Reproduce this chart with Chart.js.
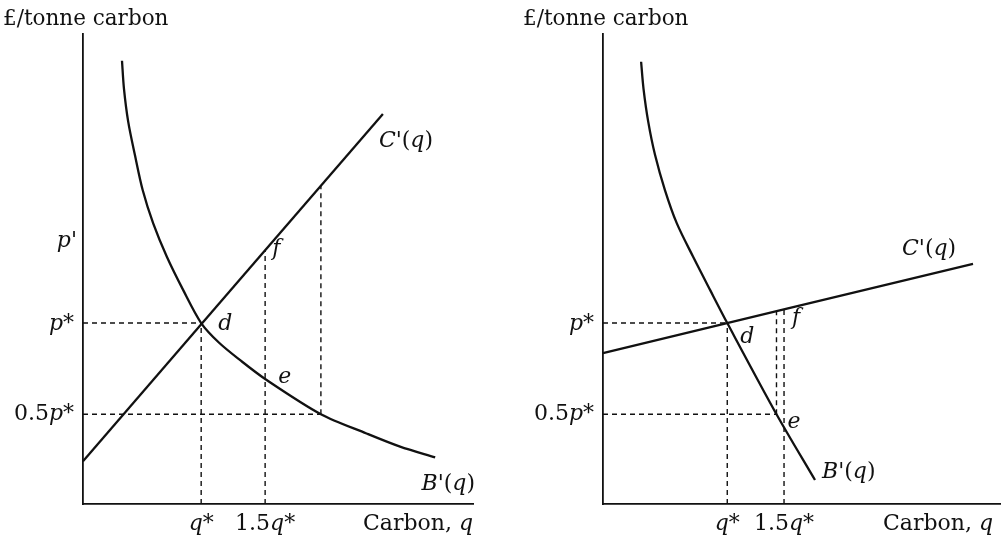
<!DOCTYPE html>
<html>
<head>
<meta charset="utf-8">
<script src="https://cdn.jsdelivr.net/npm/chart.js@4/dist/chart.umd.min.js"></script>
<style>
  body { margin: 0; background: #fff; }
  .panel { position: absolute; top: 0; height: 541px; }
  #left { left: 0; width: 500px; }
  #right { left: 500px; width: 501px; }
</style>
</head>
<body>
<div class="panel" id="left"><canvas id="leftChart" width="500" height="541"></canvas></div>
<div class="panel" id="right"><canvas id="rightChart" width="501" height="541"></canvas></div>
<script>
// left panel: steep C', flat-ish B'
const leftBenefitQ = [1.00, 1.05, 1.16, 1.33, 1.53, 1.80, 2.15, 2.57, 3.03, 3.49, 4.03, 4.67, 6.10, 7.27, 8.13, 9.03];
const leftBenefitP = [9.43, 8.84, 8.13, 7.43, 6.68, 5.97, 5.26, 4.55, 3.85, 3.43, 3.06, 2.66, 1.91, 1.50, 1.22, 0.99];
const leftCostQ = [0, 7.69];
const leftCostP = [0.91, 8.30];
const leftGuideQ = [3.03, 4.67, 6.10];     // q*, 1.5q*, B' at 0.5p*
const leftGuideLow = [0, 0, 1.91];
const leftGuideHigh = [3.85, 5.40, 6.77];
const leftPriceLevels = [3.85, 1.91, 5.40]; // p*, 0.5p*, p'
const leftPriceReach = [3.03, 6.10];
const leftPointE = 2.66;

// right panel: flat C', steep B'
const rightBenefitQ = [0.96, 1.02, 1.14, 1.31, 1.56, 1.86, 2.27, 2.70, 3.13, 4.37, 5.34];
const rightBenefitP = [9.41, 8.84, 8.13, 7.43, 6.68, 5.97, 5.26, 4.55, 3.85, 1.91, 0.51];
const rightCostQ = [0, 9.32];
const rightCostP = [3.21, 5.11];
const rightGuideQ = [3.13, 4.37, 4.56];
const rightGuideLow = [0, 1.91, 0];
const rightGuideHigh = [3.85, 4.10, 4.14];
const rightPriceLevels = [3.85, 1.91];
const rightPriceReach = [3.13, 4.37];

const FONT = '"DejaVu Serif", serif';
const pts = (xs, ys) => xs.map((x, i) => ({ x: x, y: ys[i] }));

function curve(data) {
    return { data: data, showLine: true, pointRadius: 0, borderColor: '#111', borderWidth: 2.3,
             tension: 0.3, clip: 4 };
}
function guide(data) {
    return { data: data, showLine: true, pointRadius: 0, borderColor: '#111', borderWidth: 1.4,
             borderDash: [5, 4], clip: 4 };
}

function guides(q, low, high, levels, reach) {
    const sets = [];
    q.forEach((v, i) => sets.push(guide([{ x: v, y: low[i] }, { x: v, y: high[i] }])));
    reach.forEach((r, i) => sets.push(guide([{ x: 0, y: levels[i] }, { x: r, y: levels[i] }])));
    return sets;
}

// text with mixed upright / italic runs
function drawRuns(ctx, runs, x, y, align, size) {
    const fonts = runs.map(r => (r[1] ? 'italic ' : '') + size + 'px ' + FONT);
    let w = 0;
    runs.forEach((r, i) => { ctx.font = fonts[i]; w += ctx.measureText(r[0]).width; });
    let cx = align === 'right' ? x - w : align === 'center' ? x - w / 2 : x;
    runs.forEach((r, i) => {
        ctx.font = fonts[i];
        ctx.fillText(r[0], cx, y);
        cx += ctx.measureText(r[0]).width;
    });
}

const labelPlugin = {
    id: 'labels',
    afterDraw(chart, args, opts) {
        const ctx = chart.ctx;
        const xs = chart.scales.x, ys = chart.scales.y;
        ctx.save();
        ctx.fillStyle = '#111';
        ctx.textBaseline = 'alphabetic';
        opts.items.forEach(it => {
            const x = xs.getPixelForValue(it.q) + it.dx;
            const y = ys.getPixelForValue(it.p) + it.dy;
            drawRuns(ctx, it.runs, x, y, it.align || 'left', it.size || 22);
        });
        ctx.restore();
    }
};

const PRIME = [['B', true], ["'(", false], ['q', true], [')', false]];
const CPRIME = [['C', true], ["'(", false], ['q', true], [')', false]];

function makeChart(id, datasets, padding, items) {
    new Chart(document.getElementById(id), {
        type: 'scatter',
        data: { datasets: datasets },
        options: {
            responsive: false,
            animation: false,
            layout: { padding: padding },
            plugins: { legend: { display: false }, tooltip: { enabled: false }, labels: { items: items } },
            scales: {
                x: {
                    min: 0, max: 10,
                    ticks: { display: false },
                    grid: { display: true, drawOnChartArea: false, drawTicks: false },
                    border: { display: true, color: '#111', width: 1.8 },
                    afterFit: s => { s.height = 0; }
                },
                y: {
                    min: 0, max: 10,
                    ticks: { display: false },
                    grid: { display: true, drawOnChartArea: false, drawTicks: false },
                    border: { display: true, color: '#111', width: 1.8 },
                    afterFit: s => { s.width = 0; }
                }
            }
        },
        plugins: [labelPlugin]
    });
}

document.addEventListener('DOMContentLoaded', () => {
    // 左图
    makeChart('leftChart',
        [curve(pts(leftBenefitQ, leftBenefitP)), curve(pts(leftCostQ, leftCostP))]
            .concat(guides(leftGuideQ, leftGuideLow, leftGuideHigh, leftPriceLevels, leftPriceReach)),
        { left: 83, right: 27, top: 34, bottom: 37 },
        [
            { runs: [['£/tonne carbon', false]], q: 0, p: 10, dx: -80, dy: -9, size: 21.5 },
            { runs: [['p', true], ['*', false]], q: 0, p: leftPriceLevels[0], dx: -9, dy: 7, align: 'right' },
            { runs: [['0.5', false], ['p', true], ['*', false]], q: 0, p: leftPriceLevels[1], dx: -9, dy: 6, align: 'right' },
            { runs: [['p', true], ["'", false]], q: 0, p: leftPriceLevels[2], dx: -6, dy: -3, align: 'right' },
            { runs: [['q', true], ['*', false]], q: leftGuideQ[0], p: 0, dx: 0, dy: 26, align: 'center' },
            { runs: [['1.5', false], ['q', true], ['*', false]], q: leftGuideQ[1], p: 0, dx: 0, dy: 26, align: 'center' },
            { runs: [['Carbon, ', false], ['q', true]], q: 10, p: 0, dx: 0, dy: 26, align: 'right' },
            { runs: CPRIME, q: leftCostQ[1], p: leftCostP[1], dx: -4, dy: 33 },
            { runs: PRIME, q: 10, p: 0, dx: 2, dy: -14, align: 'right' },
            { runs: [['d', true]], q: leftGuideQ[0], p: leftPriceLevels[0], dx: 17, dy: 7 },
            { runs: [['e', true]], q: leftGuideQ[1], p: leftPointE, dx: 13, dy: 4 },
            { runs: [['f', true]], q: leftGuideQ[1], p: leftGuideHigh[1], dx: 7, dy: 5 }
        ]);

    // 右图
    makeChart('rightChart',
        [curve(pts(rightBenefitQ, rightBenefitP)), curve(pts(rightCostQ, rightCostP))]
            .concat(guides(rightGuideQ, rightGuideLow, rightGuideHigh, rightPriceLevels, rightPriceReach)),
        { left: 103, right: 1, top: 34, bottom: 37 },
        [
            { runs: [['£/tonne carbon', false]], q: 0, p: 10, dx: -80, dy: -9, size: 21.5 },
            { runs: [['p', true], ['*', false]], q: 0, p: rightPriceLevels[0], dx: -9, dy: 7, align: 'right' },
            { runs: [['0.5', false], ['p', true], ['*', false]], q: 0, p: rightPriceLevels[1], dx: -9, dy: 6, align: 'right' },
            { runs: [['q', true], ['*', false]], q: rightGuideQ[0], p: 0, dx: 0, dy: 26, align: 'center' },
            { runs: [['1.5', false], ['q', true], ['*', false]], q: rightGuideQ[2], p: 0, dx: 0, dy: 26, align: 'center' },
            { runs: [['Carbon, ', false], ['q', true]], q: 10, p: 0, dx: -7, dy: 26, align: 'right' },
            { runs: CPRIME, q: rightCostQ[1], p: rightCostP[1], dx: -71, dy: -9 },
            { runs: PRIME, q: rightBenefitQ[10], p: rightBenefitP[10], dx: 7, dy: -2 },
            { runs: [['d', true]], q: rightGuideQ[0], p: rightPriceLevels[0], dx: 13, dy: 20 },
            { runs: [['e', true]], q: rightGuideQ[1], p: rightPriceLevels[1], dx: 11, dy: 14 },
            { runs: [['f', true]], q: rightGuideQ[2], p: rightGuideHigh[2], dx: 8, dy: 15 }
        ]);
});
</script>
</body>
</html>
